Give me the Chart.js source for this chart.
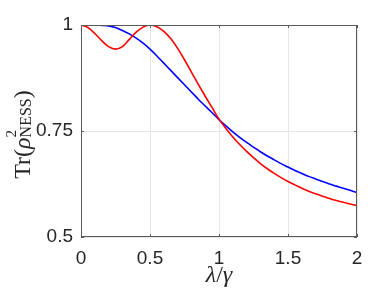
<!DOCTYPE html>
<html>
<head>
<meta charset="utf-8">
<script src="https://cdn.jsdelivr.net/npm/chart.js@4.4.1/dist/chart.umd.min.js"></script>
<style>
  html, body { margin: 0; padding: 0; background: #fff; }
  #wrap { width: 374px; height: 301px; }
</style>
</head>
<body>
<div id="wrap"><canvas id="purityChart" width="374" height="301"></canvas></div>
<script>
// lambda / gamma sample points
var lambdaVals = [0, 0.05, 0.1, 0.15, 0.2, 0.25, 0.3, 0.35, 0.4, 0.45,
                  0.5, 0.55, 0.6, 0.65, 0.7, 0.75, 0.8, 0.85, 0.9, 0.95,
                  1, 1.05, 1.1, 1.15, 1.2, 1.25, 1.3, 1.35, 1.4, 1.45,
                  1.5, 1.55, 1.6, 1.65, 1.7, 1.75, 1.8, 1.85, 1.9, 1.95, 2];

// Tr(rho^2)
var purityRed = [1.000, 0.994, 0.980, 0.963, 0.949, 0.943, 0.949, 0.966, 0.983, 0.995,
                 1.000, 0.996, 0.985, 0.968, 0.945, 0.918, 0.889, 0.860, 0.832, 0.805,
                 0.778, 0.756, 0.736, 0.718, 0.702, 0.687, 0.673, 0.661, 0.650, 0.640,
                 0.631, 0.623, 0.615, 0.608, 0.602, 0.596, 0.591, 0.586, 0.582, 0.578, 0.574];

var purityBlue = [1.000, 1.000, 1.000, 0.999, 0.998, 0.994, 0.987, 0.979, 0.969, 0.957,
                  0.943, 0.927, 0.910, 0.893, 0.876, 0.859, 0.842, 0.825, 0.809, 0.793,
                  0.777, 0.762, 0.748, 0.735, 0.723, 0.712, 0.701, 0.691, 0.682, 0.673,
                  0.665, 0.657, 0.650, 0.643, 0.637, 0.631, 0.625, 0.620, 0.615, 0.610, 0.605];

var xTicks = [0, 0.5, 1, 1.5, 2];
var xTickLabels = ['0', '0.5', '1', '1.5', '2'];
var yTicks = [0.5, 0.75, 1];
var yTickLabels = ['0.5', '0.75', '1'];

var axisColor = '#5a5a5a';
var textColor = '#262626';
var serif = '"Liberation Serif", "DejaVu Serif", serif';

function toPoints(ys) {
    var pts = [];
    for (var i = 0; i < lambdaVals.length; i++) {
        pts.push({ x: lambdaVals[i], y: ys[i] });
    }
    return pts;
}

function setTicks(values) {
    return function (scale) {
        scale.ticks = values.map(function (v) { return { value: v }; });
    };
}

function labelFor(values, labels) {
    return function (value) {
        var i = values.indexOf(value);
        return i >= 0 ? labels[i] : '';
    };
}

// draws a run of text pieces, left to right from x0
function drawRuns(ctx, runs, x0, y0) {
    var x = x0;
    runs.forEach(function (r) {
        ctx.font = r.font;
        ctx.fillText(r.text, x, y0 + (r.dy || 0));
        if (!r.noAdvance) x += ctx.measureText(r.text).width;
    });
}

function runsWidth(ctx, runs) {
    var w = 0;
    runs.forEach(function (r) {
        ctx.font = r.font;
        if (!r.noAdvance) w += ctx.measureText(r.text).width;
    });
    return w;
}

var framePlugin = {
    id: 'matlabFrame',
    afterDraw: function (chart) {
        var ctx = chart.ctx;
        var ca = chart.chartArea;
        var xs = chart.scales.x, ys = chart.scales.y;
        ctx.save();
        ctx.strokeStyle = axisColor;
        ctx.lineWidth = 1;
        ctx.strokeRect(ca.left + 0.5, ca.top + 0.5, ca.right - ca.left - 1, ca.bottom - ca.top - 1);

        // inward ticks on all four sides
        var tl = 3;
        ctx.beginPath();
        xTicks.forEach(function (v) {
            var px = Math.round(xs.getPixelForValue(v)) + 0.5;
            ctx.moveTo(px, ca.bottom); ctx.lineTo(px, ca.bottom - tl);
            ctx.moveTo(px, ca.top); ctx.lineTo(px, ca.top + tl);
        });
        yTicks.forEach(function (v) {
            var py = Math.round(ys.getPixelForValue(v)) + 0.5;
            ctx.moveTo(ca.left, py); ctx.lineTo(ca.left + tl, py);
            ctx.moveTo(ca.right, py); ctx.lineTo(ca.right - tl, py);
        });
        ctx.stroke();

        ctx.fillStyle = textColor;
        ctx.textBaseline = 'alphabetic';
        ctx.textAlign = 'left';

        // x title: lambda / gamma
        var xRuns = [
            { text: 'λ', font: 'italic 24px ' + serif },
            { text: '/', font: '24px ' + serif },
            { text: 'γ', font: 'italic 24px ' + serif }
        ];
        var xw = runsWidth(ctx, xRuns);
        drawRuns(ctx, xRuns, (ca.left + ca.right) / 2 - xw / 2, 282);

        // y title: Tr(rho^2_NESS), rotated
        var subFont = '16px ' + serif;
        var yRuns = [
            { text: 'Tr(', font: '24px ' + serif },
            { text: 'ρ', font: 'italic 24px ' + serif },
            { text: '2', font: '15px ' + serif, dy: -14, noAdvance: true },
            { text: 'NESS', font: subFont, dy: 1 },
            { text: ')', font: '24px ' + serif }
        ];
        var yw = runsWidth(ctx, yRuns);
        ctx.translate(30, 134.5);
        ctx.rotate(-Math.PI / 2);
        drawRuns(ctx, yRuns, -yw / 2, 0);
        ctx.restore();
    }
};

var ctx = document.getElementById('purityChart').getContext('2d');
var purityChart = new Chart(ctx, {
    type: 'line',
    data: {
        datasets: [{
            label: 'red',
            data: toPoints(purityRed),
            borderColor: '#ff0000',
            borderWidth: 1.6,
            pointRadius: 0,
            cubicInterpolationMode: 'monotone',
            fill: false,
            order: 0
        }, {
            label: 'blue',
            data: toPoints(purityBlue),
            borderColor: '#0000ff',
            borderWidth: 1.6,
            pointRadius: 0,
            cubicInterpolationMode: 'monotone',
            fill: false,
            order: 1
        }]
    },
    options: {
        responsive: false,
        animation: false,
        devicePixelRatio: 1,
        layout: { padding: { left: 0, right: 17, top: 25, bottom: 0 } },
        plugins: {
            legend: { display: false },
            tooltip: { enabled: false },
            title: { display: false }
        },
        scales: {
            x: {
                type: 'linear',
                min: 0,
                max: 2,
                afterBuildTicks: setTicks(xTicks),
                afterFit: function (scale) { scale.height = 64; },
                border: { display: false },
                grid: { color: '#e6e6e6', lineWidth: 1, drawTicks: false },
                ticks: {
                    padding: 10,
                    color: textColor,
                    font: { family: '"Liberation Sans", Arial, sans-serif', size: 19 },
                    maxRotation: 0,
                    callback: labelFor(xTicks, xTickLabels)
                }
            },
            y: {
                type: 'linear',
                min: 0.5,
                max: 1,
                afterBuildTicks: setTicks(yTicks),
                afterFit: function (scale) { scale.width = 81; },
                border: { display: false },
                grid: { color: '#e6e6e6', lineWidth: 1, drawTicks: false },
                ticks: {
                    padding: 8,
                    color: textColor,
                    font: { family: '"Liberation Sans", Arial, sans-serif', size: 19 },
                    callback: labelFor(yTicks, yTickLabels)
                }
            }
        }
    },
    plugins: [framePlugin]
});
</script>
</body>
</html>
